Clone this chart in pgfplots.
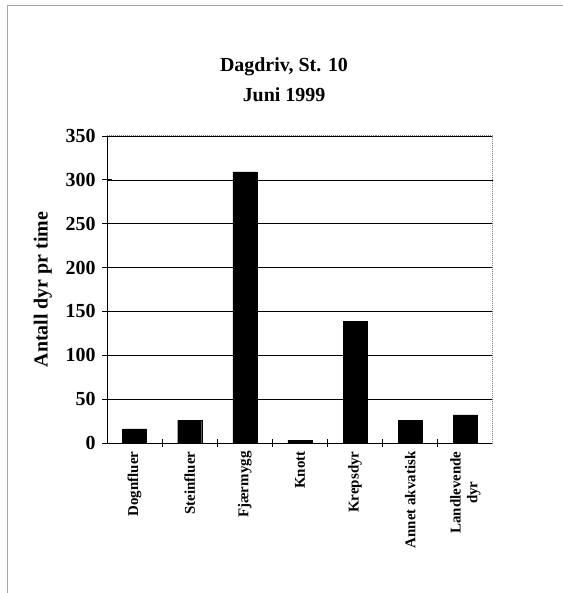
\documentclass[border=0pt]{standalone}
\usepackage{pgfplots}
\pgfplotsset{compat=1.18}
\usepackage{fontspec}
\setmainfont{Liberation Serif}

\begin{document}
\begin{tikzpicture}
\useasboundingbox (0,0) rectangle (563bp,593bp);
% outer frame (only left and top edges survive in the scan)
\draw[gray!70, line width=0.8bp] (7bp,0) -- (7bp,588bp) -- (563bp,588bp);
\node[font=\bfseries\fontsize{20}{22}\selectfont] at (284bp,526bp) {Dagdriv, St. 10};
\node[font=\bfseries\fontsize{20}{22}\selectfont] at (284bp,498bp) {Juni 1999};
\begin{axis}[
  at={(107bp,150bp)}, anchor=south west,
  scale only axis, width=386bp, height=307bp,
  clip=false,
  ybar, bar width=24bp,
  xmin=-0.5, xmax=6.5, ymin=0, ymax=350,
  ytick={0,50,...,350},
  axis lines=left,
  axis line style={-, black, line width=0.8bp},
  tick align=center,
  major tick length=10bp,
  xtick={0,...,6},
  xtick style={draw=none},
  ytick style={black, line width=0.8bp},
  xticklabels={Dognfluer, Steinfluer, Fjærmygg, Knott, Krepsdyr, Annet akvatisk, {Landlevende\\dyr}},
  xticklabel style={rotate=90, anchor=east, align=center,
    font=\bfseries\fontsize{15}{17}\selectfont},
  yticklabel style={font=\bfseries\fontsize{20}{21}\selectfont, xshift=-3bp},
  /pgf/number format/assume math mode=true,
  ymajorgrids,
  grid style={black, line width=0.6bp},
  ylabel={Antall dyr pr time},
  ylabel style={at={(axis description cs:-0.166,0.5)}, anchor=center,
    font=\bfseries\fontsize{20}{21}\selectfont},
]
\addplot[fill=black, draw=black] coordinates {
  (0,16) (1,26) (2,309) (3,3) (4,139) (5,26) (6,32)
};
\draw[gray, densely dotted, line width=1bp]
  (rel axis cs:0,1) -- (rel axis cs:1,1) -- (rel axis cs:1,0);
% category separators on the x axis
\pgfplotsinvokeforeach{0.5,1.5,2.5,3.5,4.5,5.5}{
  \draw[black, line width=0.8bp] ([yshift=-4bp]axis cs:#1,0) -- ([yshift=4bp]axis cs:#1,0);
}
% tick marks on the y axis
\pgfplotsinvokeforeach{0,50,100,150,200,250,300,350}{
  \draw[black, line width=0.8bp] ([xshift=-5bp]axis cs:-0.5,#1) -- ([xshift=4bp]axis cs:-0.5,#1);
}
\end{axis}
\end{tikzpicture}
\end{document}
